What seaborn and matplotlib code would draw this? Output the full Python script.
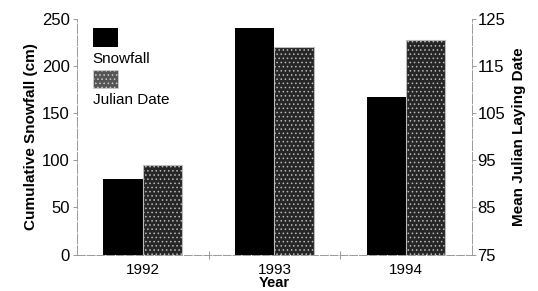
import matplotlib
matplotlib.use("Agg")
import matplotlib.pyplot as plt
from matplotlib.patches import Rectangle
import seaborn as sns
import pandas as pd

# values
years = ["1992", "1993", "1994"]
snowfall = [80, 240, 167]          # cm, left axis
julian_date = [94, 119, 120.5]     # mean Julian laying date, right axis

sns.set_theme(style="white")
plt.rcParams["font.family"] = ["Liberation Sans", "DejaVu Sans"]
plt.rcParams["text.color"] = "black"
plt.rcParams["axes.labelcolor"] = "black"
plt.rcParams["xtick.color"] = "black"
plt.rcParams["ytick.color"] = "black"
plt.rcParams["hatch.color"] = "#d0d0d0"
plt.rcParams["hatch.linewidth"] = 0.6

order = ["Snowfall", "Julian Date"]
palette = {"Snowfall": "black", "Julian Date": "#262626"}
snow_df = pd.DataFrame({"Year": years, "value": snowfall, "series": "Snowfall"})
jd_df = pd.DataFrame({"Year": years, "value": julian_date, "series": "Julian Date"})

fig = plt.figure(figsize=(5.38, 2.91), dpi=100)
ax = fig.add_axes([0.143, 0.125, 0.734, 0.81])
ax2 = ax.twinx()

sns.barplot(data=snow_df, x="Year", y="value", hue="series", hue_order=order,
            palette=palette, width=0.6, dodge=True, ax=ax, legend=False,
            linewidth=0)
sns.barplot(data=jd_df, x="Year", y="value", hue="series", hue_order=order,
            palette=palette, width=0.6, dodge=True, ax=ax2, legend=False,
            linewidth=0.8, edgecolor="#bbbbbb")
for p in ax2.patches:
    p.set_hatch("....")

ax.set_ylim(0, 250)
ax.set_yticks([0, 50, 100, 150, 200, 250])
ax2.set_ylim(75, 125)
ax2.set_yticks([75, 85, 95, 105, 115, 125])
ax.set_xlim(-0.5, 2.5)

ax.set_ylabel("Cumulative Snowfall (cm)", fontsize=11, fontweight="bold", labelpad=3)
ax2.set_ylabel("Mean Julian Laying Date", fontsize=11, fontweight="bold", labelpad=5)
ax.set_xlabel("Year", fontsize=10.5, fontweight="bold", labelpad=-0.5)

ax.tick_params(axis="y", left=True, length=3, width=0.6, color="#888888",
               labelcolor="black", labelsize=12, pad=2)
ax2.tick_params(axis="y", right=True, length=3, width=0.6, color="#888888",
                labelcolor="black", labelsize=12, pad=1)
ax.tick_params(axis="x", bottom=False, labelcolor="black", labelsize=11, pad=0)
ax.set_xticks([0.5, 1.5], minor=True)
ax.tick_params(axis="x", which="minor", bottom=True, direction="inout",
               length=6, width=0.6, color="#888888")

for a in (ax, ax2):
    a.spines["top"].set_visible(False)
    for s in ("left", "right", "bottom"):
        a.spines[s].set_color("#999999")
        a.spines[s].set_linewidth(0.7)
ax.spines["right"].set_visible(False)
ax2.spines["left"].set_visible(False)
ax2.spines["bottom"].set_visible(False)
ax.spines["bottom"].set_linestyle((0, (8, 2)))
ax.spines["left"].set_linestyle((0, (10, 2)))
ax2.spines["right"].set_linestyle((0, (10, 2)))

# legend drawn as in the original: swatch above each label
ax.add_patch(Rectangle((0.04, 0.882), 0.063, 0.08, transform=ax.transAxes,
                       facecolor="black", edgecolor="none", zorder=5))
ax.text(0.04, 0.828, "Snowfall", transform=ax.transAxes, fontsize=11,
        va="center", ha="left", zorder=5)
ax.add_patch(Rectangle((0.04, 0.709), 0.063, 0.076, transform=ax.transAxes,
                       facecolor="#555555", edgecolor="#cccccc", hatch="....",
                       linewidth=0.6, zorder=5))
ax.text(0.04, 0.658, "Julian Date", transform=ax.transAxes, fontsize=11,
        va="center", ha="left", zorder=5)

fig.savefig("out.png", dpi=100, facecolor="white")
